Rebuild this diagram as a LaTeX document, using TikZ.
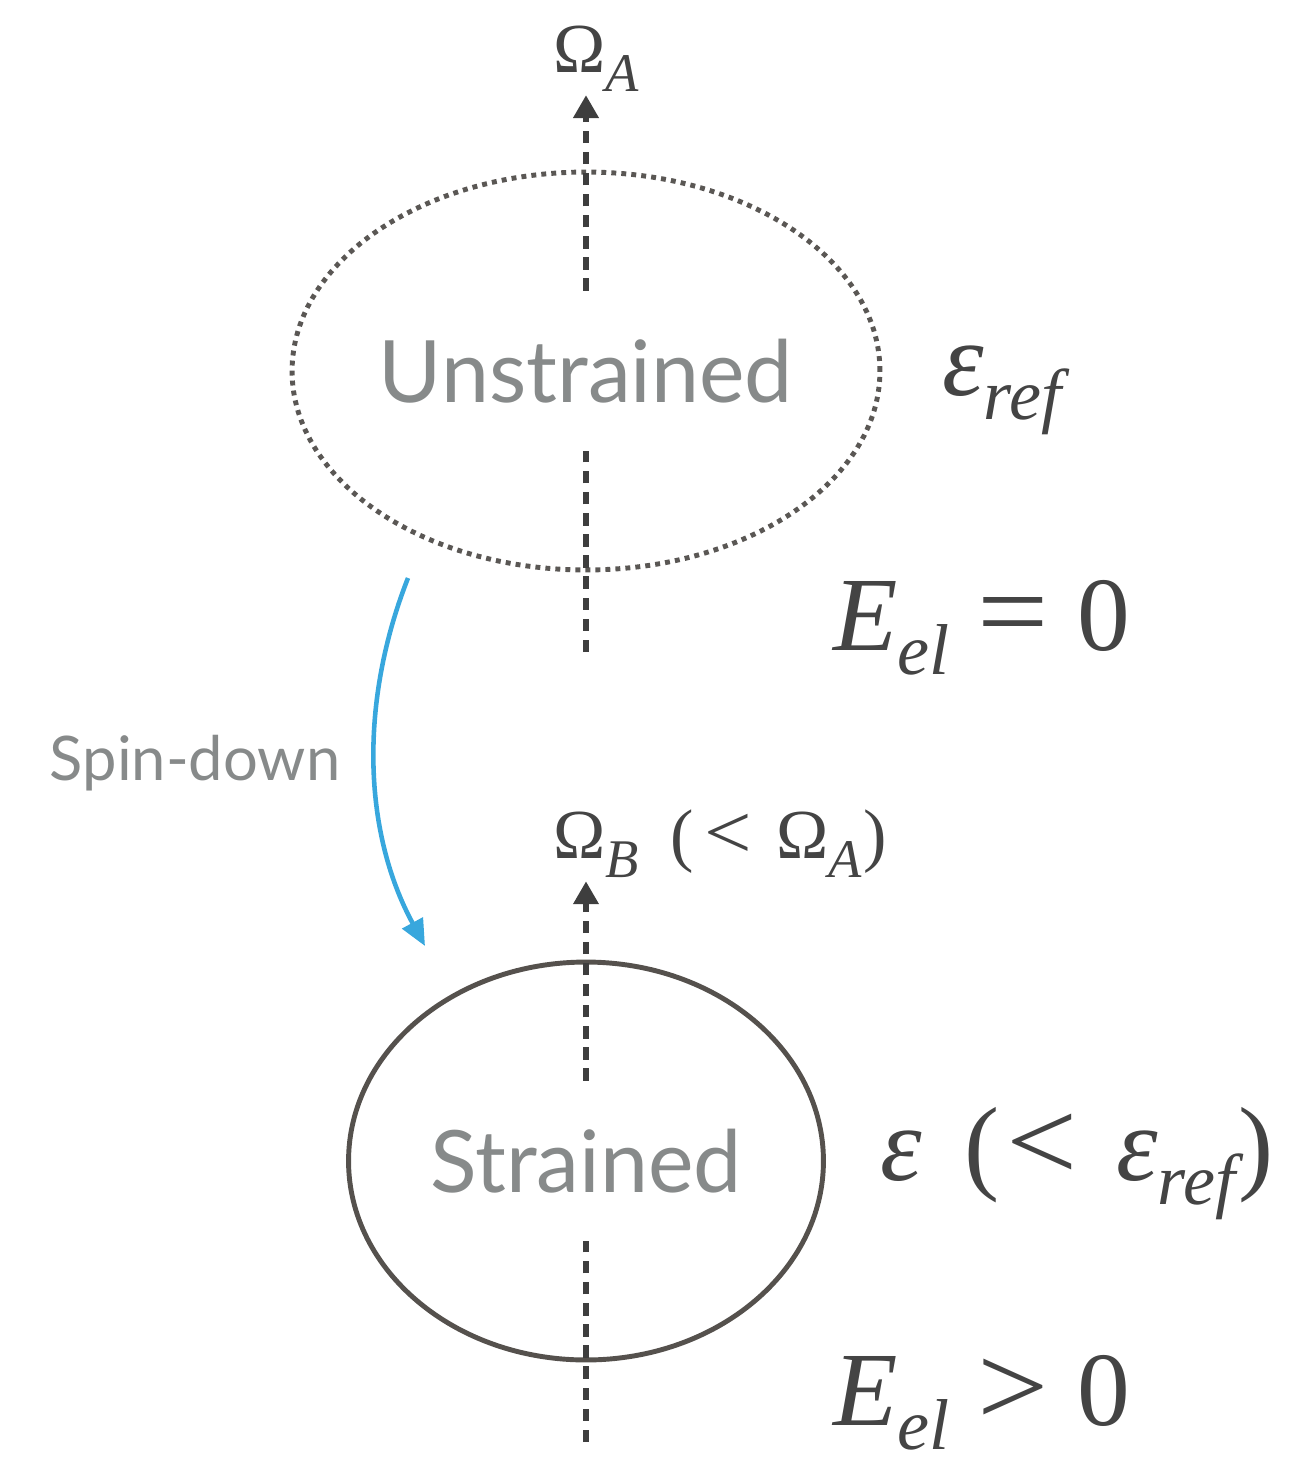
\documentclass[tikz,border=0pt]{standalone}
\usepackage{fontspec}
\setmainfont{Liberation Serif}
\newfontfamily\lblfont{Lato}
\usetikzlibrary{arrows.meta, positioning, shapes.geometric, calc}
\definecolor{ink}{HTML}{444444}
\definecolor{rim}{HTML}{5A5754}
\definecolor{rimdark}{HTML}{55514D}
\definecolor{axisgray}{HTML}{3E3E3E}
\definecolor{lblgray}{HTML}{878A8A}
\definecolor{spinblue}{HTML}{38A7DD}

% lowered italic indices, big and small
\newcommand{\bigsub}[1]{\raisebox{-14pt}{\fontsize{41}{41}\selectfont\itshape #1}}
\newcommand{\smallsub}[1]{\raisebox{-11pt}{\fontsize{31}{31}\selectfont\itshape #1}}
\newcommand{\wrel}[1]{\scalebox{1.2}[1.1]{#1}}

\tikzset{
  body/.style={ellipse, line width=2.8pt, inner sep=0pt, minimum height=7.96cm},
  statelbl/.style={font=\lblfont\fontsize{49}{52}\selectfont, text=lblgray, minimum height=3.2cm, inner sep=0pt},
  axisline/.style={draw=axisgray, line width=3pt, dash pattern=on 7pt off 5pt},
  axtip/.style={-{Triangle[length=13pt,width=14pt]}, shorten >=2pt},
  bigeq/.style={text=ink, inner sep=0pt, anchor=base west, font=\fontsize{60}{62}\selectfont},
  smalleq/.style={text=ink, inner sep=0pt, anchor=base west, font=\fontsize{40}{44}\selectfont},
}

\begin{document}
\begin{tikzpicture}[x=0.02cm, y=-0.02cm]
  \useasboundingbox (0,0) rectangle (1301,1458);

  % unstrained star
  \node[body, draw=rim, minimum width=11.76cm, dash pattern=on 2.8pt off 2.9pt] (unstr) at (586,371) {};
  \node[statelbl] (unstrlbl) at (unstr.center) {Unstrained};
  \coordinate (axAbot) at (586,652);
  \node[smalleq] (omA) at (553,72) {Ω\smallsub{A}};
  \draw[axisline] (axAbot) -- (unstrlbl.south);
  \draw[axisline, axtip] (unstrlbl.north) -- (unstrlbl.north |- omA.south);

  \node[bigeq] (epsref) at (942,395) {\textit{ε}\bigsub{ref}};
  \node[bigeq] (eelzero) at (833,650) {\textit{E}\bigsub{el}\hspace{16pt}\wrel{=}\hspace{16pt}0};

  % spin-down
  \coordinate (spinfrom) at (408,578);
  \coordinate (spinto) at (425,946);
  \draw[spinblue, line width=2.6pt, -{Triangle[length=15pt,width=13pt]}]
    (spinfrom) .. controls (360,700) and (362,830) .. (spinto);
  \node[font=\lblfont\fontsize{35}{38}\selectfont, text=lblgray] (spinlbl) at (195,763) {Spin-down};

  % strained star
  \node[body, draw=rimdark, minimum width=9.5cm] (str) at (586,1161) {};
  \node[statelbl] (strlbl) at (str.center) {Strained};
  \coordinate (axBbot) at (586,1442);
  \node[smalleq] (omB) at (553,858) {Ω\smallsub{B}\hspace{18pt}(\hspace{6pt}\wrel{<}\hspace{14pt}Ω\smallsub{A}\hspace{1pt})};
  \draw[axisline] (axBbot) -- (strlbl.south);
  \draw[axisline, axtip] (strlbl.north) -- (strlbl.north |- omB.south);

  \node[bigeq] (epsless) at (880,1180) {\textit{ε}\hspace{24pt}(\hspace{4pt}\wrel{<}\hspace{22pt}\textit{ε}\bigsub{ref}\hspace{2pt})};
  \node[bigeq] (eelpos) at (833,1425) {\textit{E}\bigsub{el}\hspace{16pt}\wrel{>}\hspace{16pt}0};
\end{tikzpicture}
\end{document}
